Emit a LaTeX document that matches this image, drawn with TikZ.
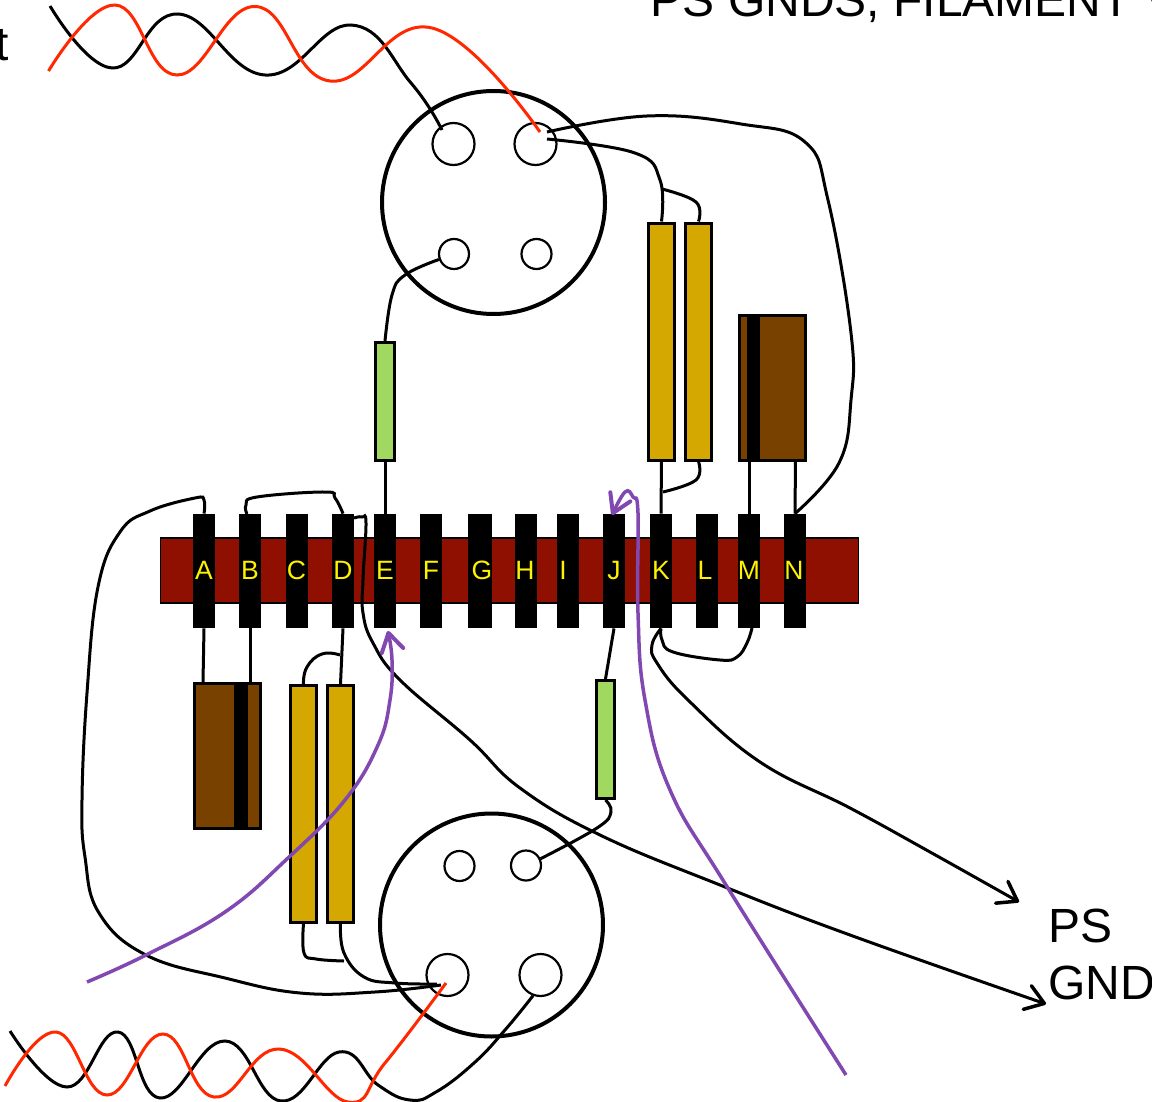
\documentclass[tikz,border=0pt]{standalone}
\usepackage{fontspec}
\setmainfont{Liberation Sans}
\usepackage{tikz}
\usetikzlibrary{arrows.meta}
\definecolor{tagred}{RGB}{143,16,0}
\definecolor{capyellow}{RGB}{212,168,0}
\definecolor{capbrown}{RGB}{120,65,0}
\definecolor{resgreen}{RGB}{160,216,96}
\definecolor{twistred}{RGB}{255,40,0}
\definecolor{tracepurple}{RGB}{128,72,176}
\tikzset{
     lug/.style =
        { rectangle
        , fill=black
        , inner sep=0pt
        , minimum width=11pt
        , minimum height=57pt
        , text=yellow
        , text height=8.5pt
        , text depth=0pt
        , font=\fontsize{13.25}{15}\selectfont
        },
     tagstrip/.style =
        { rectangle
        , draw=black
        , fill=tagred
        , line width=.6pt
        , minimum width=349pt
        , minimum height=32.5pt
        },
     capbar/.style =
        { rectangle
        , draw
        , fill=capyellow
        , line width=1.5pt
        , minimum width=12.75pt
        , minimum height=118.5pt
        },
     resbar/.style =
        { rectangle
        , draw
        , fill=resgreen
        , line width=1.5pt
        , minimum width=9.25pt
        , minimum height=59pt
        },
     brownbox/.style =
        { rectangle
        , draw
        , fill=capbrown
        , line width=1.5pt
        , minimum width=33.25pt
        , minimum height=72.5pt
        },
     bandbox/.style =
        { rectangle
        , fill=black
        , minimum width=6.25pt
        , minimum height=73pt
        },
     socket/.style =
        { circle
        , draw
        , line width=2pt
        , minimum size=111.5pt
        },
     bighole/.style =
        { circle
        , draw
        , line width=1.1pt
        , minimum size=21pt
        },
     smallhole/.style =
        { circle
        , draw
        , line width=1.1pt
        , minimum size=15pt
        },
     wire/.style =
        { line width=1.5pt
        , >={Straight Barb[round,length=9pt,width=12.5pt,line width=1.75pt]}
        },
     redwire/.style =
        { wire
        , color=twistred
        },
     purplewire/.style =
        { line width=1.75pt
        , color=tracepurple
        , >={Straight Barb[round,length=9pt,width=11pt,line width=2pt]}
        },
     bigtext/.style =
        { font=\fontsize{24}{28.25}\selectfont
        , inner sep=0pt
        }
}
\begin{document}
\begin{tikzpicture}
            [ x=.5pt
            , y=-.5pt
            , node distance=23pt
            ]
            \clip (0,0) rectangle (1152,1102);

            \node[bigtext, anchor=base east] (input) at (9,61) {t};
            \node[bigtext, anchor=base west] (title) at (650.5,17) {PS GNDS, FILAMENT V};
            \node[bigtext, anchor=base west, align=left] (psgnd) at (1048,999) {PS\\GND};

            \node[tagstrip] (strip) at (509.5,570.5) {};

            \node[lug] (A) at (204,571) {A};
            \node[lug] (B) [right of=A] {B};
            \node[lug] (C) [right of=B, node distance=23.25pt] {C};
            \node[lug] (D) [right of=C, node distance=23.25pt] {D};
            \node[lug] (E) [right of=D, node distance=21pt] {E};
            \node[lug] (F) [right of=E] {F};
            \node[lug] (G) [right of=F, node distance=24.5pt] {\kern2pt G};
            \node[lug] (H) [right of=G] {\kern-1pt H};
            \node[lug] (I) [right of=H, node distance=21pt] {\kern-5pt I};
            \node[lug] (J) [right of=I] {J};
            \node[lug] (K) [right of=J, node distance=23.5pt] {K};
            \node[lug] (L) [right of=K] {\kern-2pt L};
            \node[lug] (M) [right of=L, node distance=21pt] {M};
            \node[lug] (N) [right of=M] {\kern-1pt N};

            % top socket
            \node[socket] (top) at (493.5,202.5) {};
            \node[bighole] (top1) at (453.5,144) {};
            \node[bighole] (top2) at (535.5,144) {};
            \node[smallhole] (top3) at (454,254) {};
            \node[smallhole] (top4) at (536.5,254) {};

            \node[capbar] (cap1) at (661.5,341.5) {};
            \node[capbar] (cap2) at (698.5,341.5) {};
            \node[brownbox] (elec1) at (772.5,387.5) {};
            \node[bandbox] (band1) at (753.5,387.5) {};
            \node[resbar] (res1) at (385,401.5) {};

            % bottom socket
            \node[socket] (bot) at (491.5,925) {};
            \node[smallhole] (bot1) at (459.5,866) {};
            \node[smallhole] (bot2) at (526,865.5) {};
            \node[bighole] (bot3) at (447.5,975) {};
            \node[bighole] (bot4) at (540.5,975) {};

            \node[capbar] (cap3) at (303.5,804) {};
            \node[capbar] (cap4) at (340.5,804) {};
            \node[brownbox] (elec2) at (227.5,755.5) {};
            \node[bandbox] (band2) at (241,755.5) {};
            \node[resbar] (res2) at (605.5,739.5) {};

            \coordinate (topblack) at (442,130);
            \coordinate (topred) at (540,132);
            \coordinate (topout1) at (547,132);
            \coordinate (topout2) at (547,139);
            \coordinate (botin1) at (437,984);
            \coordinate (botin2) at (441,985);
            \coordinate (botred) at (446,983);
            \coordinate (arrowps) at (1019,902);
            \coordinate (arrowgnd) at (1046,1004);

            % heater twists
            \draw[wire] plot[smooth, tension=.75] coordinates
                {(50,6) (112,68) (178,14) (265,75) (351,25) (411,83) (topblack)};
            \draw[redwire] plot[smooth, tension=.75] coordinates
                {(48.5,71) (115,5) (177,75) (255.5,6.5) (330,81) (432,28) (topred)};
            \draw[wire] plot[smooth, tension=.75] coordinates
                {(10,1031) (67,1087) (118,1032) (160,1098) (225,1041) (281,1101)
                 (339,1052) (378,1085) (410,1100) (436,1092) (474,1063) (505,1030) (bot4.250)};
            \draw[redwire] plot[smooth, tension=.75] coordinates
                {(5,1086) (56,1032) (107,1095) (163,1034) (214,1097) (279,1049)
                 (348,1102) (385,1063) (botred)};

            % around the top socket
            \draw[wire] plot[smooth, tension=.7] coordinates
                {(topout1) (647,116) (741,124) (805,142) (828,200) (851,333) (851,400) (839,463) (N.north)};
            \draw[wire] plot[smooth, tension=.7] coordinates
                {(topout2) (635,153) (660,180) (cap1.north)};
            \draw[wire] plot[smooth, tension=.7] coordinates
                {(662,189) (696,202) (cap2.north)};
            \draw[wire] plot[smooth, tension=.7] coordinates
                {(top3.200) (405,275) (392,295) (res1.north)};
            \draw[wire] (res1.south) -- (E.north);
            \draw[wire] (cap1.south) -- (K.north);
            \draw[wire] plot[smooth, tension=.7] coordinates
                {(cap2.south) (696,480) (663,492)};
            \draw[wire] (749,461) -- (M.north);
            \draw[wire] (N.north) -- (795.5,461);

            % under the strip
            \draw[wire] (A.south) -- (203,682);
            \draw[wire] (B.south) -- (250,682);
            \draw[wire] (D.south) -- (cap4.north);
            \draw[wire] plot[smooth, tension=.8] coordinates
                {(340,655) (322,654) (307,667) (cap3.north)};
            \draw[wire] (J.south) -- (res2.north);
            \draw[wire] plot[smooth, tension=.7] coordinates
                {(res2.south) (611,812) (597,828) (bot2.25)};
            \draw[wire] plot[smooth, tension=.7] coordinates
                {(cap3.south) (304,953) (316,959) (344,961)};
            \draw[wire] plot[smooth, tension=.7] coordinates
                {(cap4.south) (344,953) (364,977) (395,983) (botin1)};
            \draw[wire] plot[smooth, tension=.7] coordinates
                {(A.north) (204,500) (195,498) (150,511) (120,532) (98,587) (87,693) (82,800)
                 (85,857) (99,913) (146,955) (225,978) (300,993) (375,992) (botin2)};
            \draw[wire] plot[smooth, tension=.7] coordinates
                {(247,514) (246,505) (257,497) (325,492) (335,498) (D.north)};
            \draw[wire] plot[smooth, tension=.7] coordinates
                {(K.south) (662,640) (673,652) (720,660) (737,657) (747,643) (752,628)};
            \draw[wire, ->] plot[smooth, tension=.7] coordinates
                {(K.south) (652,645) (657,663) (688,700) (760,762) (850,808) (930,852) (arrowps)};
            \draw[wire, ->] plot[smooth, tension=.7] coordinates
                {(354,518) (362,517) (366,523) (363,580) (363,613) (373,643) (400,680) (470,740)
                 (520,788) (600,835) (720,885) (850,935) (arrowgnd)};

            % current paths
            \draw[purplewire, ->] plot[smooth, tension=.7] coordinates
                {(87,982) (146,955) (225,912) (288,858) (345,800) (378,745) (390,700) (392,660) (388,631)};
            \draw[purplewire, ->] plot[smooth, tension=.7] coordinates
                {(846,1075) (726,885) (670,790) (645,700) (638,613) (638,513) (633,497) (625,492) (612,515)};
\end{tikzpicture}
\end{document}
